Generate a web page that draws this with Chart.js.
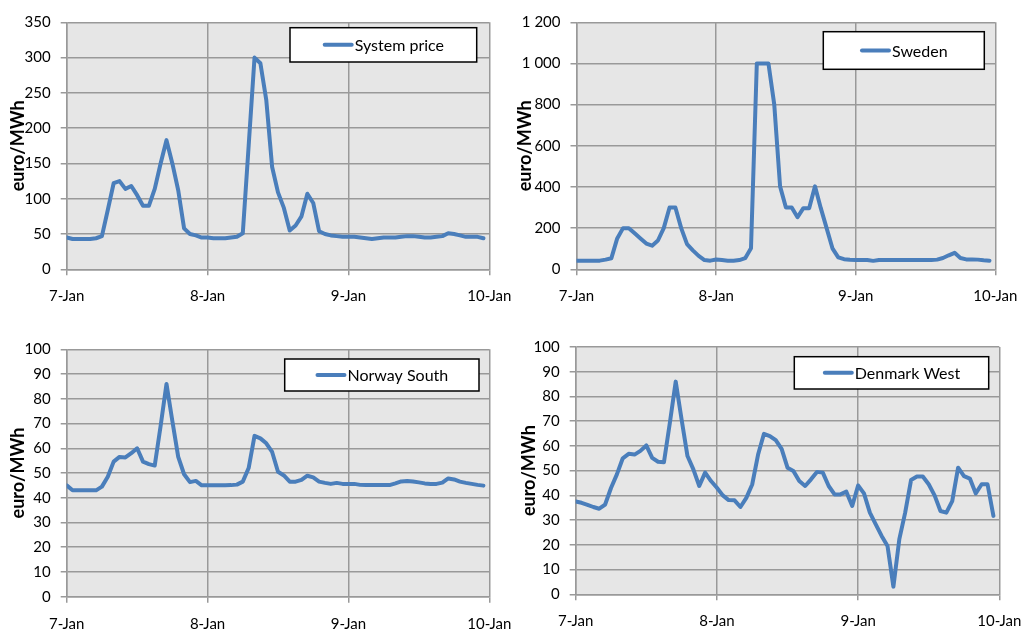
<!DOCTYPE html>
<html>
<head>
<meta charset="utf-8">
<script src="https://cdn.jsdelivr.net/npm/chart.js@4.4.0/dist/chart.umd.min.js"></script>
<style>
  body { margin: 0; background: #fff; width: 1025px; height: 631px; overflow: hidden; position: relative; }
  canvas { position: absolute; }
</style>
</head>
<body>
<canvas id="systemChart" width="512" height="315" style="left:0;top:0"></canvas>
<canvas id="swedenChart" width="513" height="315" style="left:512px;top:0"></canvas>
<canvas id="norwayChart" width="512" height="315" style="left:0;top:316px"></canvas>
<canvas id="denmarkChart" width="513" height="315" style="left:512px;top:316px"></canvas>
<script>
// ---------- Data (hourly, 7-Jan 00:00 to 9-Jan 23:00) ----------
const hours = Array.from({ length: 72 }, (_, i) => i);
const dayLabels = ["7-Jan", "8-Jan", "9-Jan", "10-Jan"];

const systemPrice = [
  45, 43, 43, 43, 43, 44, 47, 84, 122, 125,
  114, 118, 105, 90, 90, 114, 150, 183, 150, 112,
  58, 50, 48, 45, 45, 44, 44, 44, 45, 46,
  51, 175, 300, 292, 240, 145, 109, 87, 55, 62,
  75, 107, 94, 54, 50, 48, 47, 46, 46, 46,
  45, 44, 43, 44, 45, 45, 45, 46, 47, 47,
  46, 45, 45, 46, 47, 51, 50, 48, 46, 46,
  46, 44
];
const sweden = [
  42, 42, 42, 42, 42, 47, 54, 150, 200, 200,
  175, 150, 125, 115, 140, 200, 300, 300, 200, 122,
  92, 65, 45, 42, 48, 45, 42, 42, 45, 54,
  102, 1000, 1000, 1000, 800, 403, 300, 300, 253, 297,
  297, 403, 297, 200, 102, 58, 49, 46, 45, 45,
  45, 41, 45, 45, 45, 45, 45, 45, 45, 45,
  45, 45, 47, 55, 68, 80, 55, 48, 48, 47,
  44, 42
];
const norwaySouth = [
  45, 43, 43, 43, 43, 43, 44.5, 48.5, 54.6, 56.5,
  56.3, 58, 60, 54.6, 53.6, 53, 69, 86, 71, 56.5,
  49.5, 46.3, 46.8, 45, 45, 45, 45, 45, 45.1, 45.3,
  46.5, 52, 65, 64, 62, 58.5, 50.5, 49, 46.5, 46.5,
  47.2, 48.9, 48.2, 46.5, 46, 45.6, 46, 45.6, 45.6, 45.6,
  45.2, 45.1, 45.1, 45.1, 45.1, 45.1, 45.8, 46.6, 46.8, 46.6,
  46.2, 45.8, 45.6, 45.6, 46.1, 47.8, 47.4, 46.5, 46, 45.6,
  45.2, 44.9
];
const denmarkWest = [
  37.5, 37, 36.2, 35.3, 34.6, 36.3, 43, 48.5, 55, 56.8,
  56.5, 58, 60.2, 55.2, 53.6, 53.4, 69.3, 86, 70.7, 55.9,
  50.5, 43.8, 49.2, 45.8, 43.1, 40, 38.1, 38, 35.3, 39,
  44.4, 56.5, 64.9, 64, 62.3, 58.8, 51.2, 49.9, 45.8, 43.8,
  46.5, 49.5, 49.2, 43.8, 40.4, 40.4, 41.5, 35.7, 44, 40.8,
  33, 28.3, 23.6, 19.5, 3.1, 22.2, 33, 46.2, 47.6, 47.6,
  44.5, 40, 33.7, 33, 37.7, 51.2, 47.8, 46.8, 40.8, 44.5,
  44.5, 31.7
];

// ---------- Panels (page coordinates) ----------
const panels = [
  { id: "systemChart", label: "System price", values: systemPrice, yMax: 350, yStep: 50,
    canvas: { left: 0, top: 0, w: 512, h: 315 },
    area: { l: 66.7, t: 22.3, r: 489.3, b: 269.3 }, titleX: 18.3,
    box: { x: 290, y: 27.7, w: 186.7, h: 34.3 } },
  { id: "swedenChart", label: "Sweden", values: sweden, yMax: 1200, yStep: 200,
    canvas: { left: 512, top: 0, w: 513, h: 315 },
    area: { l: 576.5, t: 22.3, r: 995.3, b: 269.3 }, titleX: 524.7,
    box: { x: 823.3, y: 31.7, w: 161, h: 37.6 } },
  { id: "norwayChart", label: "Norway South", values: norwaySouth, yMax: 100, yStep: 10,
    canvas: { left: 0, top: 316, w: 512, h: 315 },
    area: { l: 66.7, t: 349.3, r: 489.3, b: 596.7 }, titleX: 18.3,
    box: { x: 284.7, y: 359, w: 194.3, h: 32 } },
  { id: "denmarkChart", label: "Denmark West", values: denmarkWest, yMax: 100, yStep: 10,
    canvas: { left: 512, top: 316, w: 513, h: 315 },
    area: { l: 575.7, t: 347, r: 999.3, b: 594.3 }, titleX: 528.7,
    box: { x: 794.3, y: 356.7, w: 194.4, h: 32.3 } }
];

const LINE = "#4a7ebb";
const GRID = "#999999";

// ---------- Plugins ----------
const plotBackground = {
  id: "plotBackground",
  beforeDraw(chart) {
    const { ctx, chartArea: a } = chart;
    ctx.save();
    ctx.fillStyle = "#e6e6e6";
    ctx.fillRect(a.left, a.top, a.width, a.height);
    ctx.restore();
  }
};

const boxLegend = {
  id: "boxLegend",
  afterDraw(chart, args, opts) {
    const { ctx } = chart;
    const ds = chart.data.datasets[0];
    ctx.save();
    ctx.fillStyle = "#fff";
    ctx.fillRect(opts.x, opts.y, opts.w, opts.h);
    ctx.strokeStyle = "#000";
    ctx.lineWidth = 1.5;
    ctx.strokeRect(opts.x, opts.y, opts.w, opts.h);
    ctx.font = "16px Lato";
    const tw = ctx.measureText(ds.label).width;
    const start = opts.x + (opts.w - (32 + tw)) / 2;
    const cy = opts.y + opts.h / 2;
    ctx.strokeStyle = ds.borderColor;
    ctx.lineWidth = 4;
    ctx.lineCap = "round";
    ctx.beginPath();
    ctx.moveTo(start + 2, cy);
    ctx.lineTo(start + 29, cy);
    ctx.stroke();
    ctx.fillStyle = "#000";
    ctx.textBaseline = "middle";
    ctx.fillText(ds.label, start + 32, cy + 1);
    ctx.restore();
  }
};

function fmtTick(v) {
  return v >= 1000 ? Math.floor(v / 1000) + " " + String(v % 1000).padStart(3, "0") : v;
}

function build() {
  Chart.defaults.font.family = "Lato";
  Chart.defaults.font.size = 15;
  Chart.defaults.color = "#000";

  panels.forEach(p => {
    const c = p.canvas;
    const yWidth = p.area.l - c.left;
    const xHeight = c.top + c.h - p.area.b;
    const titleFont = { size: 18, weight: "bold" };
    const titlePad = p.titleX - c.left - 18 * 1.2 / 2;

    new Chart(document.getElementById(p.id), {
      type: "line",
      data: {
        labels: hours,
        datasets: [{
          label: p.label,
          data: p.values,
          borderColor: LINE,
          borderWidth: 4,
          borderJoinStyle: "round",
          borderCapStyle: "round",
          pointRadius: 0,
          tension: 0,
          fill: false
        }]
      },
      options: {
        responsive: false,
        animation: false,
        layout: {
          padding: { left: 0, top: p.area.t - c.top, right: c.left + c.w - p.area.r, bottom: 0 }
        },
        plugins: {
          legend: { display: false },
          tooltip: { enabled: false },
          boxLegend: {
            x: p.box.x - c.left, y: p.box.y - c.top, w: p.box.w, h: p.box.h
          }
        },
        scales: {
          x: {
            type: "linear",
            min: 0,
            max: 72,
            afterFit(s) { s.height = xHeight; s.paddingLeft = 0; s.paddingRight = 0; },
            grid: { color: GRID, lineWidth: 1.5, tickLength: 6 },
            border: { color: GRID, width: 1.5 },
            ticks: {
              stepSize: 24,
              maxRotation: 0,
              autoSkip: false,
              padding: 12,
              callback: v => dayLabels[v / 24]
            }
          },
          y: {
            min: 0,
            max: p.yMax,
            afterFit(s) { s.width = yWidth; },
            grid: { color: GRID, lineWidth: 1.5, tickLength: 6 },
            border: { color: GRID, width: 1.5 },
            ticks: { stepSize: p.yStep, padding: 10, callback: fmtTick },
            title: {
              display: true,
              text: "euro/MWh",
              font: titleFont,
              padding: { top: titlePad, bottom: 0 }
            }
          }
        }
      },
      plugins: [plotBackground, boxLegend]
    });
  });
}

Promise.all([
  document.fonts.load("15px Lato"),
  document.fonts.load("bold 18px Lato")
]).then(build, build);
</script>
</body>
</html>
